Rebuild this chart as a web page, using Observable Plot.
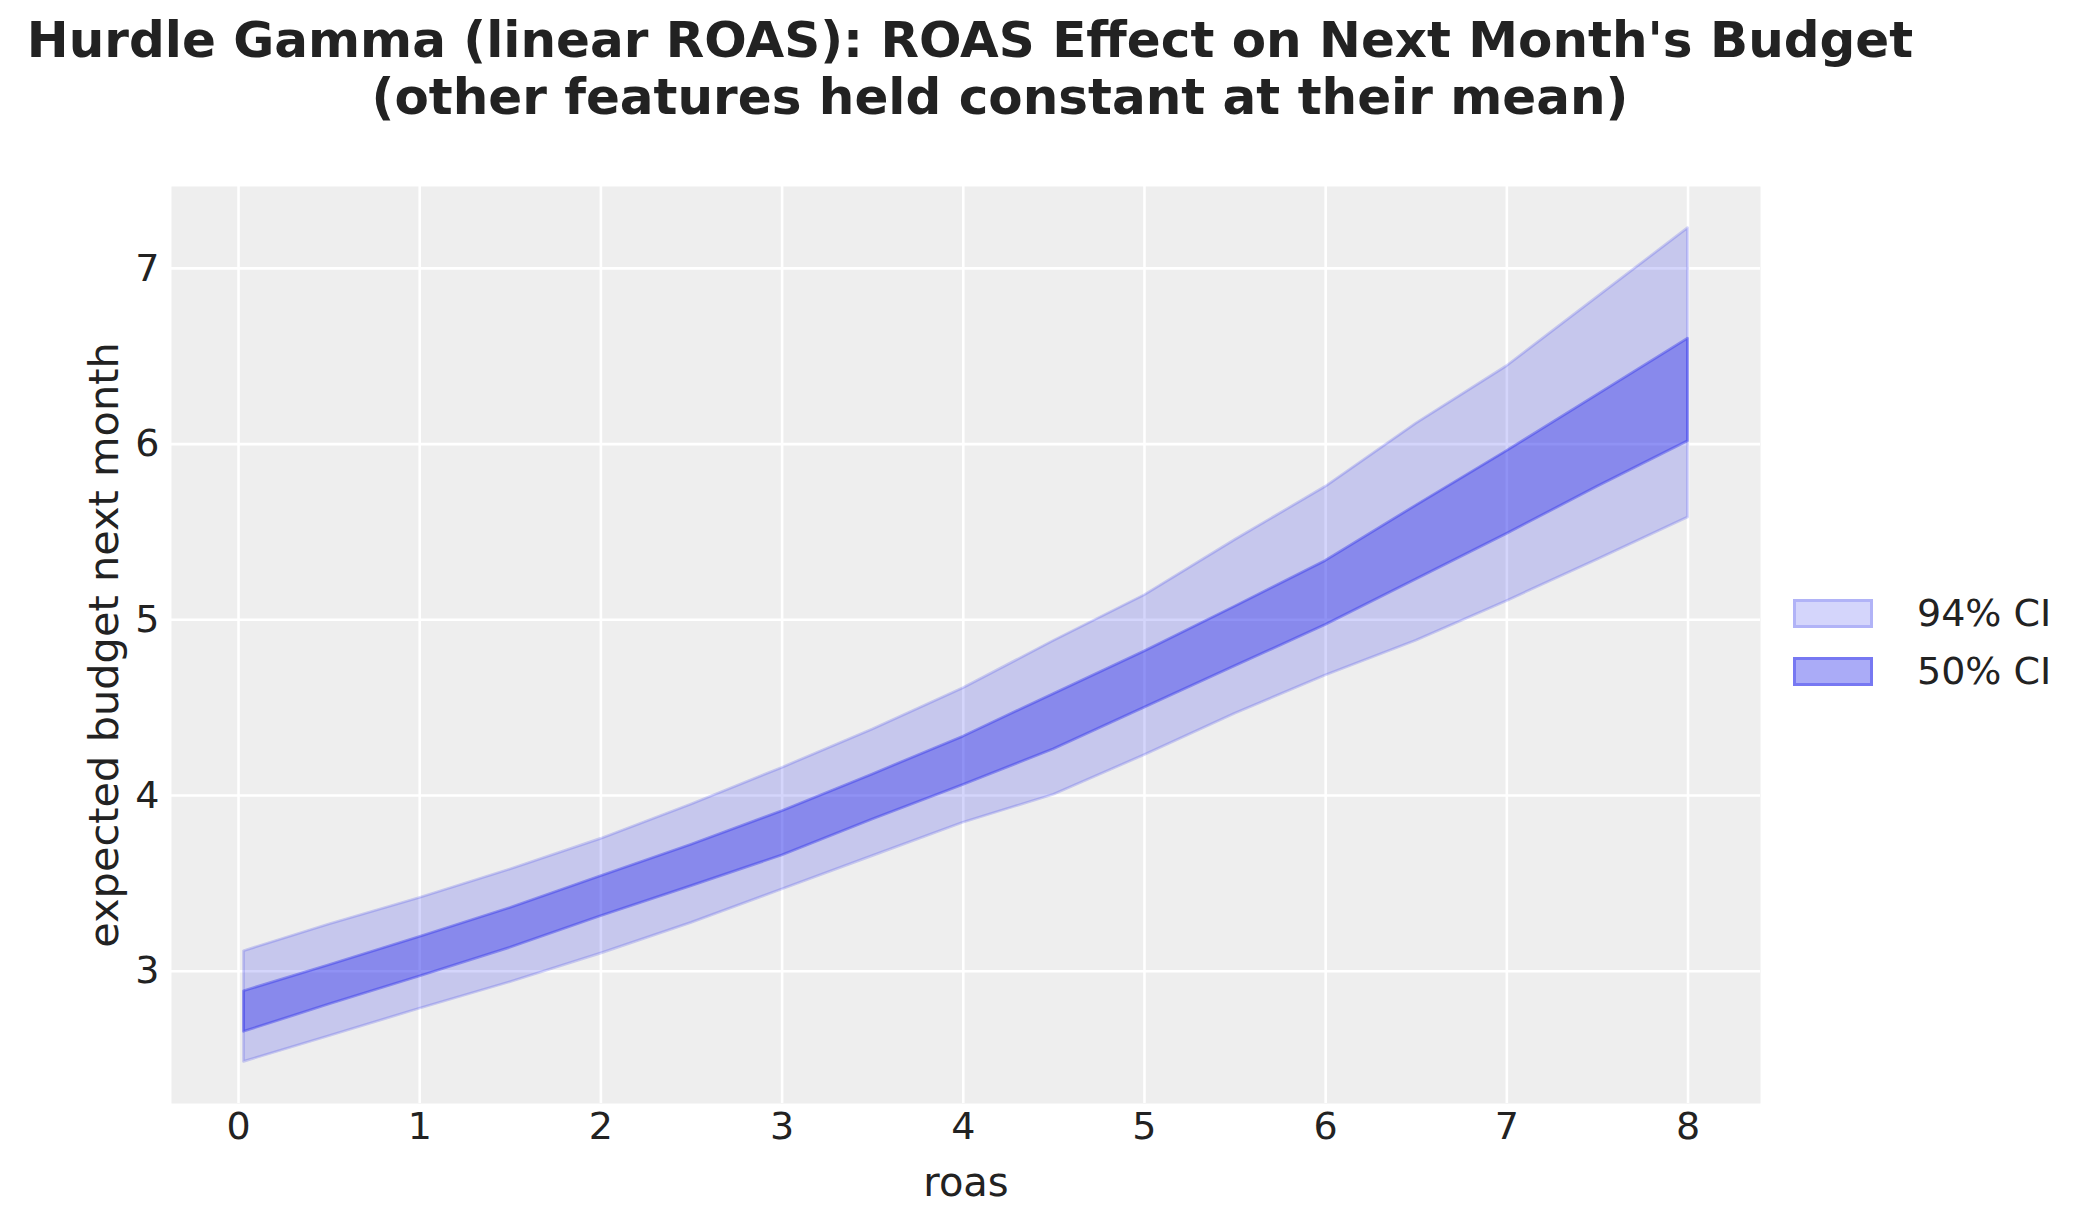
<!DOCTYPE html>
<html>
<head>
<meta charset="utf-8">
<script src="https://cdn.jsdelivr.net/npm/d3@7"></script>
<script src="https://cdn.jsdelivr.net/npm/@observablehq/plot@0.6"></script>
<style>
  html, body { margin: 0; padding: 0; background: #ffffff; }
  body { width: 2088px; height: 1223px; position: relative; overflow: hidden; font-family: "DejaVu Sans", sans-serif; color: #222222; }
  #title { position: absolute; left: 0; top: 0; width: 2088px; font-weight: bold; font-size: 50px; line-height: 57px; color: #222222; }
  #title .l1 { position: absolute; left: 0; width: 1940px; text-align: center; top: 12px; white-space: nowrap; }
  #title .l2 { position: absolute; left: 0; width: 2000px; text-align: center; top: 69px; white-space: nowrap; }
  #chart { position: absolute; left: 0; top: 140px; }
  .legend-item { position: absolute; left: 1793px; height: 29px; }
  .swatch { position: absolute; left: 0; top: 0; width: 80px; height: 29px; box-sizing: border-box; }
  .legend-label { position: absolute; left: 124px; top: -9px; font-size: 38px; line-height: 46px; white-space: nowrap; color: #222222; }
</style>
</head>
<body>
<div id="title"><div class="l1">Hurdle Gamma (linear ROAS): ROAS Effect on Next Month's Budget</div><div class="l2">(other features held constant at their mean)</div></div>
<div id="chart"></div>
<div id="legend"></div>
<script>
// Data
const roas      = [0.03, 0.5, 1, 1.5, 2, 2.5, 3, 3.5, 4, 4.5, 5, 5.5, 6, 6.5, 7, 7.5, 8];
const hdi94Low  = [2.484, 2.630, 2.786, 2.937, 3.100, 3.275, 3.465, 3.655, 3.845, 4.004, 4.229, 4.465, 4.683, 4.881, 5.106, 5.342, 5.582];
const hdi94High = [3.114, 3.266, 3.417, 3.579, 3.753, 3.949, 4.157, 4.376, 4.610, 4.880, 5.139, 5.454, 5.757, 6.117, 6.443, 6.836, 7.229];
const hdi50Low  = [2.655, 2.810, 2.970, 3.133, 3.313, 3.484, 3.658, 3.863, 4.060, 4.263, 4.499, 4.735, 4.970, 5.229, 5.488, 5.757, 6.016];
const hdi50High = [2.886, 3.034, 3.195, 3.360, 3.540, 3.720, 3.910, 4.120, 4.335, 4.578, 4.820, 5.075, 5.335, 5.650, 5.960, 6.280, 6.600];
const xTicks = [0, 1, 2, 3, 4, 5, 6, 7, 8];
const yTicks = [3, 4, 5, 6, 7];
const legendLabels = ["94% CI", "50% CI"];

const C0 = "#2a2eec";
const rows = roas.map((r, i) => ({roas: r, lo94: hdi94Low[i], hi94: hdi94High[i], lo50: hdi50Low[i], hi50: hdi50High[i]}));
const fmt = d => String(d);

const plot = Plot.plot({
  width: 2088,
  height: 1083,
  marginLeft: 171,
  marginRight: 328,
  marginTop: 46,
  marginBottom: 120,
  style: {fontFamily: "DejaVu Sans", fontSize: "38px", color: "#222222", background: "transparent"},
  x: {domain: [-0.37, 8.40], label: null},
  y: {domain: [2.247, 7.466], label: null},
  marks: [
    Plot.frame({fill: "#eeeeee", stroke: null}),
    Plot.gridX(xTicks, {stroke: "#ffffff", strokeOpacity: 1, strokeWidth: 2.6}),
    Plot.gridY(yTicks, {stroke: "#ffffff", strokeOpacity: 1, strokeWidth: 2.6}),
    Plot.areaY(rows, {x: "roas", y1: "lo94", y2: "hi94", fill: C0, fillOpacity: 0.2, stroke: C0, strokeOpacity: 0.2, strokeWidth: 2.7, strokeLinejoin: "round"}),
    Plot.areaY(rows, {x: "roas", y1: "lo50", y2: "hi50", fill: C0, fillOpacity: 0.4, stroke: C0, strokeOpacity: 0.4, strokeWidth: 2.7, strokeLinejoin: "round"}),
    Plot.axisX(xTicks, {tickSize: 0, tickPadding: 9, fontSize: 38, fill: "#222222", tickFormat: fmt, label: null}),
    Plot.axisY(yTicks, {tickSize: 0, tickPadding: 12, fontSize: 38, fill: "#222222", tickFormat: fmt, label: null}),
    Plot.text(["roas"], {frameAnchor: "bottom", dy: 80, fontSize: 40, fill: "#222222", lineAnchor: "middle", textAnchor: "middle"}),
    Plot.text(["expected budget next month"], {frameAnchor: "left", dx: -67, rotate: -90, fontSize: 41.5, fill: "#222222", lineAnchor: "middle", textAnchor: "middle"})
  ]
});
document.getElementById("chart").appendChild(plot);

// Legend
const legend = document.getElementById("legend");
const swatchStyles = [
  {bg: "rgba(42,46,236,0.2)", border: "3px solid rgba(42,46,236,0.2)", top: 599},
  {bg: "rgba(42,46,236,0.4)", border: "3px solid rgba(42,46,236,0.4)", top: 657}
];
legendLabels.forEach((lab, i) => {
  const item = document.createElement("div");
  item.className = "legend-item";
  item.style.top = swatchStyles[i].top + "px";
  const sw = document.createElement("div");
  sw.className = "swatch";
  sw.style.background = swatchStyles[i].bg;
  sw.style.border = swatchStyles[i].border;
  item.appendChild(sw);
  const t = document.createElement("div");
  t.className = "legend-label";
  t.textContent = lab;
  item.appendChild(t);
  legend.appendChild(item);
});
</script>
</body>
</html>
